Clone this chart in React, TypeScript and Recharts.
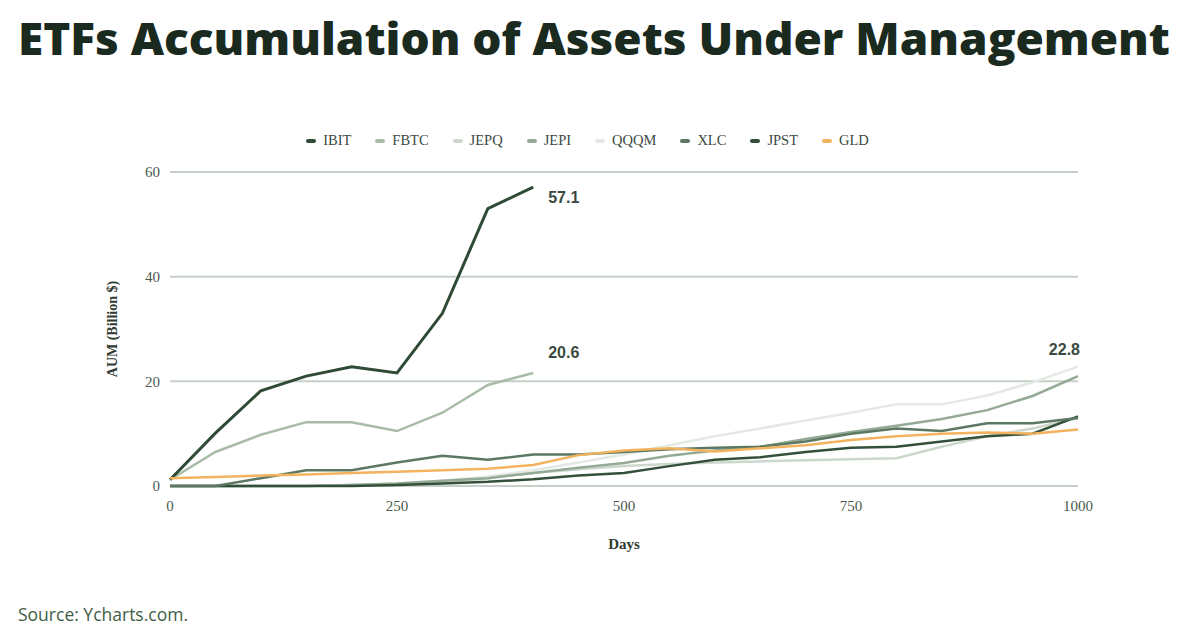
import * as React from 'react';
import { LineChart, Line, XAxis, YAxis, CartesianGrid } from 'recharts';

const days = [0, 50, 100, 150, 200, 250, 300, 350, 400, 450, 500, 550, 600, 650, 700, 750, 800, 850, 900, 950, 1000];

const ibit = [1.2, 10.1, 18.2, 21, 22.8, 21.6, 33, 53, 57.1];
const fbtc = [1.2, 6.5, 9.8, 12.2, 12.2, 10.5, 14, 19.3, 21.6];
const jepq = [0, 0, 0, 0, 0.2, 0.4, 0.8, 1.5, 2.5, 3.2, 3.8, 4.2, 4.5, 4.7, 4.9, 5.1, 5.3, 7.5, 9.5, 11, 13];
const jepi = [0, 0, 0, 0, 0.2, 0.5, 1, 1.5, 2.5, 3.5, 4.4, 5.8, 6.8, 7.5, 9, 10.3, 11.5, 12.8, 14.5, 17.2, 21];
const qqqm = [0, 0, 0, 0, 0.2, 0.5, 1, 1.8, 3, 4.5, 6, 7.8, 9.5, 11, 12.5, 14, 15.6, 15.6, 17.3, 19.8, 22.8];
const xlc = [0, 0, 1.5, 3, 3, 4.5, 5.8, 5, 6, 6, 6.5, 7, 7.3, 7.5, 8.5, 10, 11, 10.5, 12, 12, 13];
const jpst = [0, 0, 0, 0, 0, 0.2, 0.5, 0.8, 1.3, 2, 2.5, 3.8, 5, 5.5, 6.5, 7.3, 7.5, 8.5, 9.5, 10, 13.3];
const gld = [1.5, 1.7, 2, 2.2, 2.5, 2.7, 3, 3.3, 4, 5.9, 6.8, 7.2, 6.6, 7.2, 7.8, 8.8, 9.5, 10, 10.2, 10, 10.8];

const seriesNames = ['IBIT', 'FBTC', 'JEPQ', 'JEPI', 'QQQM', 'XLC', 'JPST', 'GLD'];
const seriesColors = ['#2f4a35', '#a9bca8', '#cdd8cd', '#95aa96', '#e3e9e3', '#5d7862', '#34503b', '#f3b35e'];
const seriesValues = [ibit, fbtc, jepq, jepi, qqqm, xlc, jpst, gld];

const yTicks = [0, 20, 40, 60];
const xTicks = [0, 250, 500, 750, 1000];

const data = days.map((d, i) => {
  const row: Record<string, number | undefined> = { day: d };
  seriesNames.forEach((name, k) => {
    row[name] = seriesValues[k][i];
  });
  return row;
});

const endLabel = (len: number, text: string, dx: number, dy: number, anchor: string) => (props: any) => {
  if (props.index !== len - 1) return null;
  return (
    <text
      key={text}
      x={props.x + dx}
      y={props.y + dy}
      textAnchor={anchor}
      fill="#3b4a3f"
      fontSize={16}
      fontWeight={700}
      fontFamily="Liberation Sans, Arial, sans-serif"
    >
      {text}
    </text>
  );
};

const serif = 'Liberation Serif, Times New Roman, serif';

const App: React.FC = () => {
  return (
    <div style={{ position: 'absolute', left: 0, top: 0, width: 1191, height: 639, background: '#fff', overflow: 'hidden' }}>
      <svg width={1191} height={70} style={{ position: 'absolute', left: 0, top: 0 }}>
        <text
          x={18}
          y={55}
          textLength={1152}
          lengthAdjust="spacingAndGlyphs"
          fontFamily="Open Sans, sans-serif"
          fontWeight={800}
          fontSize={45}
          fill="#1a2a1e"
        >
          ETFs Accumulation of Assets Under Management
        </text>
      </svg>

      <div
        style={{
          position: 'absolute',
          top: 132,
          left: 0,
          width: 1175,
          display: 'flex',
          justifyContent: 'center',
          gap: 24,
          fontFamily: serif,
          fontSize: 14.5,
          color: '#3b4a3f',
        }}
      >
        {seriesNames.map((name, k) => (
          <div key={name} style={{ display: 'flex', alignItems: 'center', gap: 7 }}>
            <span style={{ display: 'inline-block', width: 10, height: 4, borderRadius: 2, background: seriesColors[k] }} />
            <span>{name}</span>
          </div>
        ))}
      </div>

      <LineChart
        width={1191}
        height={639}
        data={data}
        margin={{ top: 172, right: 113, bottom: 123, left: 110 }}
        style={{ position: 'absolute', left: 0, top: 0 }}
      >
        <CartesianGrid vertical={false} stroke="#c7d0c7" strokeWidth={2} />
        <XAxis
          dataKey="day"
          type="number"
          domain={[0, 1000]}
          ticks={xTicks}
          axisLine={false}
          tickLine={false}
          height={30}
          tickMargin={8}
          tick={{ fill: '#4a5a4c', fontSize: 15, fontFamily: serif }}
          label={{ value: 'Days', position: 'bottom', offset: 22, fill: '#2f3a31', fontSize: 15, fontWeight: 700, fontFamily: serif }}
        />
        <YAxis
          type="number"
          domain={[0, 60]}
          ticks={yTicks}
          axisLine={false}
          tickLine={false}
          width={60}
          tickMargin={4}
          tick={{ fill: '#4a5a4c', fontSize: 15, fontFamily: serif }}
          label={{ value: 'AUM (Billion $)', angle: -90, position: 'insideLeft', offset: 2, fill: '#2f3a31', fontSize: 14, fontWeight: 700, fontFamily: serif, style: { textAnchor: 'middle' } }}
        />
        {[4, 2, 3, 6, 5, 1, 0, 7].map((k) => {
          const name = seriesNames[k];
          let label: any = undefined;
          if (name === 'IBIT') label = endLabel(ibit.length, '57.1', 15, 16, 'start');
          if (name === 'FBTC') label = endLabel(fbtc.length, '20.6', 15, -15, 'start');
          if (name === 'QQQM') label = endLabel(qqqm.length, '22.8', 2, -12, 'end');
          return (
            <Line
              key={name}
              type="linear"
              dataKey={name}
              stroke={seriesColors[k]}
              strokeWidth={k === 0 ? 3 : 2.5}
              dot={false}
              activeDot={false}
              isAnimationActive={false}
              label={label}
            />
          );
        })}
      </LineChart>

      <div
        style={{
          position: 'absolute',
          left: 18,
          top: 602,
          fontFamily: 'Open Sans, sans-serif',
          fontSize: 17.5,
          color: '#3f5e45',
        }}
      >
        Source: Ycharts.com.
      </div>
    </div>
  );
};

export default App;
